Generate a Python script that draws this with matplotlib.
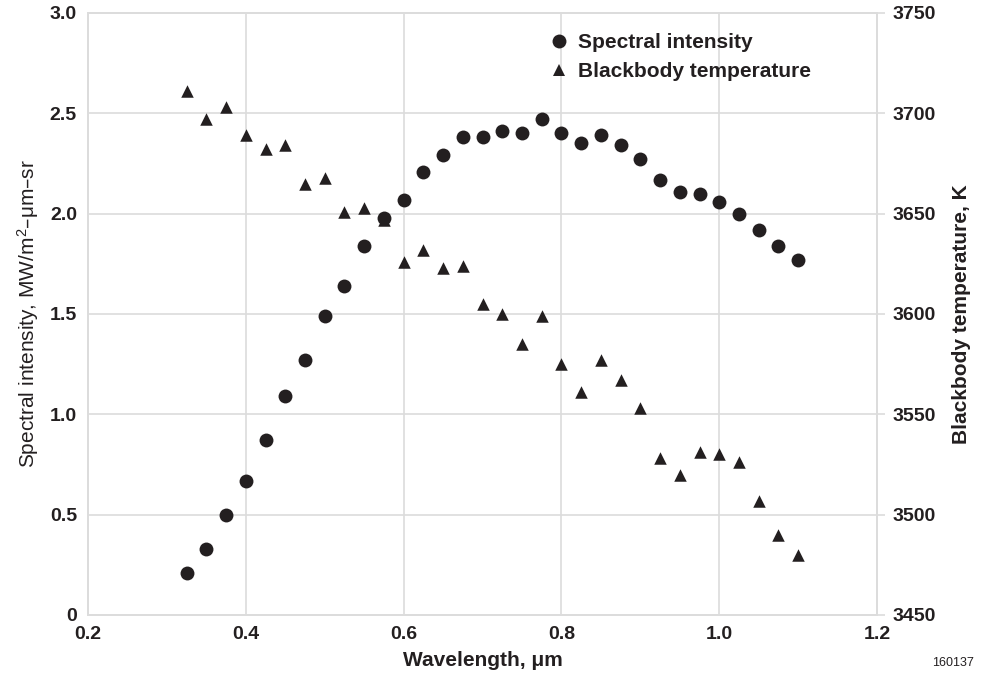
import matplotlib
matplotlib.use("Agg")
import matplotlib.pyplot as plt
from matplotlib.lines import Line2D

plt.rcParams['font.family'] = ['Liberation Sans', 'DejaVu Sans']

# wavelength, um
wavelength = [0.325, 0.35, 0.375, 0.4, 0.425, 0.45, 0.475, 0.5,
              0.525, 0.55, 0.575, 0.6, 0.625, 0.65, 0.675, 0.7,
              0.725, 0.75, 0.775, 0.8, 0.825, 0.85, 0.875, 0.9,
              0.925, 0.95, 0.975, 1.0, 1.025, 1.05, 1.075, 1.1]

# spectral intensity, MW/m2-um-sr
intensity = [0.21, 0.33, 0.50, 0.67, 0.87, 1.09, 1.27, 1.49,
             1.64, 1.84, 1.98, 2.07, 2.21, 2.29, 2.38, 2.38,
             2.41, 2.40, 2.47, 2.40, 2.35, 2.39, 2.34, 2.27,
             2.17, 2.11, 2.10, 2.06, 2.00, 1.92, 1.84, 1.77]

# blackbody temperature, K
temperature = [3711, 3697, 3703, 3689, 3682, 3684, 3665, 3668,
               3651, 3653, 3647, 3626, 3632, 3623, 3624, 3605,
               3600, 3585, 3599, 3575, 3561, 3577, 3567, 3553,
               3528, 3520, 3531, 3530, 3526, 3507, 3490, 3480]

x_ticks = [0.2, 0.4, 0.6, 0.8, 1.0, 1.2]
x_ticklabels = ["0.2", "0.4", "0.6", "0.8", "1.0", "1.2"]
y_ticks = [0, 0.5, 1.0, 1.5, 2.0, 2.5, 3.0]
y_ticklabels = ["0", "0.5", "1.0", "1.5", "2.0", "2.5", "3.0"]
t_ticks = [3450, 3500, 3550, 3600, 3650, 3700, 3750]

INK = "#231f20"
GRID = "#dcdcdc"
TICK_FS = 14
LABEL_FS = 15

fig = plt.figure(figsize=(9.87, 6.83), dpi=100)
ax = fig.add_axes([0.0892, 0.0996, 0.7994, 0.8814])
ax2 = ax.twinx()

ax.scatter(wavelength, intensity, s=10 ** 2, marker="o", color=INK,
           linewidths=0, zorder=3)
ax2.scatter(wavelength, temperature, s=9 ** 2, marker="^", color=INK,
            linewidths=0, zorder=3)

ax.set_xlim(0.2, 1.2)
ax.set_ylim(0, 3.0)
ax2.set_ylim(3450, 3750)

ax.set_xticks(x_ticks)
ax.set_xticklabels(x_ticklabels)
ax.set_yticks(y_ticks)
ax.set_yticklabels(y_ticklabels)
ax2.set_yticks(t_ticks)

ax.grid(True, color=GRID, linewidth=1.2)
ax.set_axisbelow(True)
for a in (ax, ax2):
    for sp in a.spines.values():
        sp.set_color(GRID)
        sp.set_linewidth(1.2)

ax.tick_params(axis="x", length=0, pad=8, labelsize=TICK_FS, labelcolor=INK)
ax.tick_params(axis="y", length=0, pad=8, labelsize=TICK_FS, labelcolor=INK)
ax2.tick_params(axis="y", length=6, width=1.2, color=GRID, pad=5,
                labelsize=TICK_FS, labelcolor=INK)
for lab in ax.get_xticklabels() + ax.get_yticklabels() + ax2.get_yticklabels():
    lab.set_fontweight("bold")

ax.set_xlabel("Wavelength, \u03bcm", fontsize=LABEL_FS, fontweight="bold",
              color=INK, labelpad=6)
ax.set_ylabel("Spectral intensity, MW/m$\\mathregular{^2}$\u2013\u03bcm\u2013sr",
              fontsize=LABEL_FS, color=INK, labelpad=6)
ax2.set_ylabel("Blackbody temperature, K", fontsize=LABEL_FS, fontweight="bold",
               color=INK, rotation=90, labelpad=12)

handles = [
    Line2D([], [], linestyle="none", marker="o", markersize=10, color=INK,
           markeredgewidth=0),
    Line2D([], [], linestyle="none", marker="^", markersize=9, color=INK,
           markeredgewidth=0),
]
leg = ax2.legend(handles, ["Spectral intensity", "Blackbody temperature"],
                 loc="upper left", bbox_to_anchor=(0.584, 0.967),
                 frameon=False, handlelength=1.0, handletextpad=0.4,
                 borderpad=0, borderaxespad=0, labelspacing=0.5,
                 prop={"size": 15, "weight": "bold"})
for t in leg.get_texts():
    t.set_color(INK)

fig.text(0.987, 0.02, "160137", fontsize=9, color=INK, ha="right", va="bottom")

fig.savefig("out.png", dpi=100)
